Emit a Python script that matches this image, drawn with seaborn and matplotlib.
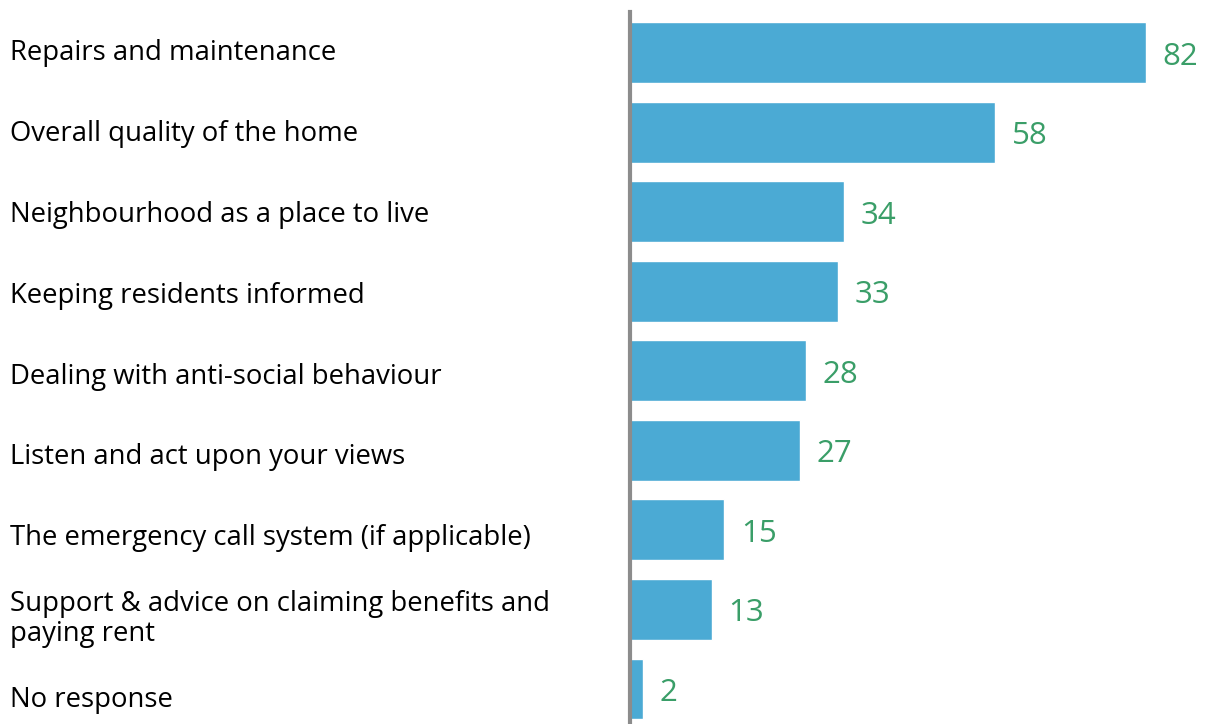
import matplotlib
matplotlib.use("Agg")
import matplotlib.pyplot as plt
import seaborn as sns
import pandas as pd

categories = [
    "Repairs and maintenance",
    "Overall quality of the home",
    "Neighbourhood as a place to live",
    "Keeping residents informed",
    "Dealing with anti-social behaviour",
    "Listen and act upon your views",
    "The emergency call system (if applicable)",
    "Support & advice on claiming benefits and\npaying rent",
    "No response",
]
values = [82, 58, 34, 33, 28, 27, 15, 13, 2]

BAR_COLOR = "#4BAAD4"
VALUE_COLOR = "#3A9E68"
AXIS_COLOR = "#8C8C8C"

sns.set_style("white")
plt.rcParams["font.family"] = ["Open Sans", "DejaVu Sans"]

df = pd.DataFrame({"category": categories, "value": values})

W, H = 1208, 724
fig = plt.figure(figsize=(W / 100, H / 100), dpi=100)
ax = fig.add_axes([630 / W, 0, (W - 630) / W, 712 / H])

sns.barplot(data=df, x="value", y="category", orient="h", color=BAR_COLOR,
            saturation=1, width=0.765, ax=ax)

ax.set_xlim(0, (W - 630) / 6.293)
ax.set_ylim(8.44, -0.51)
ax.set_xlabel("")
ax.set_ylabel("")
ax.set_xticks([])
ax.set_yticks([])
for side in ["top", "right", "bottom"]:
    ax.spines[side].set_visible(False)
ax.spines["left"].set_color(AXIS_COLOR)
ax.spines["left"].set_linewidth(3)
ax.spines["left"].set_zorder(5)

# Value labels to the right of each bar
for i, v in enumerate(values):
    ax.annotate(f"{v}", xy=(v, i), xytext=(12, -8.6), textcoords="offset points",
                va="baseline", ha="left", fontsize=22.5, color=VALUE_COLOR)

# Category labels in a left column, one row per bar
# (baseline alignment of a multi-line text refers to its last line)
label_top, label_pitch, line_pitch = 60, 80.9, 30
for i, c in enumerate(categories):
    n_lines = c.count("\n") + 1
    y_px = label_top + i * label_pitch + (n_lines - 1) * line_pitch / 2
    fig.text(10 / W, 1 - y_px / H, c, ha="left", va="baseline", fontsize=19.8,
             color="#000000", linespacing=1.1)

fig.savefig("out.png", dpi=100)
